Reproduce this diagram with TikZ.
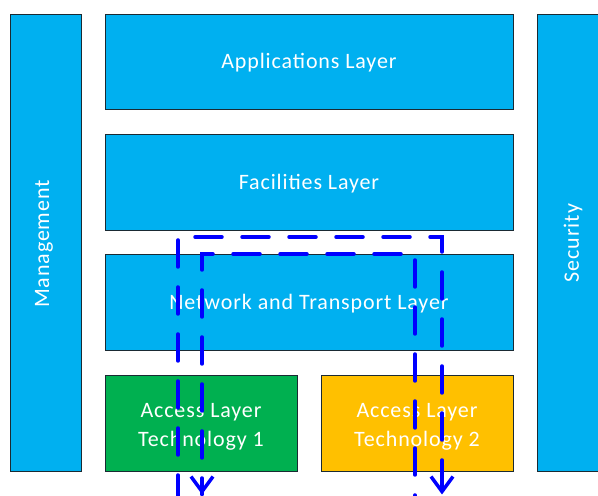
\documentclass[tikz,border=0pt]{standalone}
\usepackage{fontspec}
\setmainfont{Carlito}[LetterSpace=4]
\usetikzlibrary{arrows.meta}
\definecolor{layerblue}{HTML}{00B0F0}
\definecolor{accgreen}{HTML}{00B050}
\definecolor{accgold}{HTML}{FFC000}
\definecolor{edgecol}{HTML}{1A2A33}
\definecolor{pathblue}{HTML}{0000FF}
\tikzset{
  labelfont/.style={font=\fontsize{22}{29}\selectfont},
  layerbox/.style={draw=edgecol, line width=0.8pt, fill=layerblue, text=white,
    inner sep=0pt, outer sep=0pt, align=center, labelfont},
  flowpath/.style={draw=pathblue, line width=3.5pt, line cap=round, line join=miter,
    dash pattern=on 27pt off 20pt},
  flowtip/.style={-{Straight Barb[length=15pt,width=22pt,line width=3.5pt]}}
}
\begin{document}
\begin{tikzpicture}[x=1pt,y=1pt]
\useasboundingbox (0,0) rectangle (598,496);
\clip (0,0) rectangle (598,496);
% side bars
\node[layerbox, minimum width=71pt, minimum height=457pt] (mgmt) at (45.5,253.5) {};
\node[rotate=90, text=white, labelfont] (mgmtlbl) at (44,252) {Management};
\node[layerbox, minimum width=73pt, minimum height=457pt] (sec) at (573.5,253.5) {};
\node[rotate=90, text=white, labelfont] (seclbl) at (573,253) {Security};
% layers
\node[layerbox, minimum width=408pt, minimum height=95pt, text height=19pt, text depth=4.5pt] (apps) at (309,434.5) {Applications Layer};
\node[layerbox, minimum width=408pt, minimum height=96pt, text height=19pt, text depth=4.5pt] (fac) at (309,314) {Facilities Layer};
\node[layerbox, minimum width=408pt, minimum height=96pt, text height=19pt, text depth=4.5pt] (net) at (309,194) {Network and Transport Layer};
\node[layerbox, fill=accgreen, minimum width=192pt, minimum height=96pt] (acc1) at (201,73) {\rule{0pt}{21pt}Access Layer\\Technology 1};
\node[layerbox, fill=accgold, minimum width=192pt, minimum height=96pt] (acc2) at (417,73) {\rule{0pt}{21pt}Access Layer\\Technology 2};
% flow paths
\coordinate (oa) at (178,-6);
\coordinate (ob) at (178,259);
\coordinate (oc) at (442,259);
\coordinate (od) at (442,1.5);
\coordinate (ia) at (415,-6);
\coordinate (ib) at (415,242);
\coordinate (ic) at (202,242);
\coordinate (id) at (202,1.5);
\draw[flowpath] (oa) -- (ob) -- (oc) -- (od);
\draw[flowpath, dash phase=20pt] (ia) -- (ib) -- (ic) -- (id);
\draw[draw=pathblue, line width=3.5pt, flowtip] ([yshift=2pt]od) -- (od);
\draw[draw=pathblue, line width=3.5pt, flowtip] ([yshift=2pt]id) -- (id);
\end{tikzpicture}
\end{document}
